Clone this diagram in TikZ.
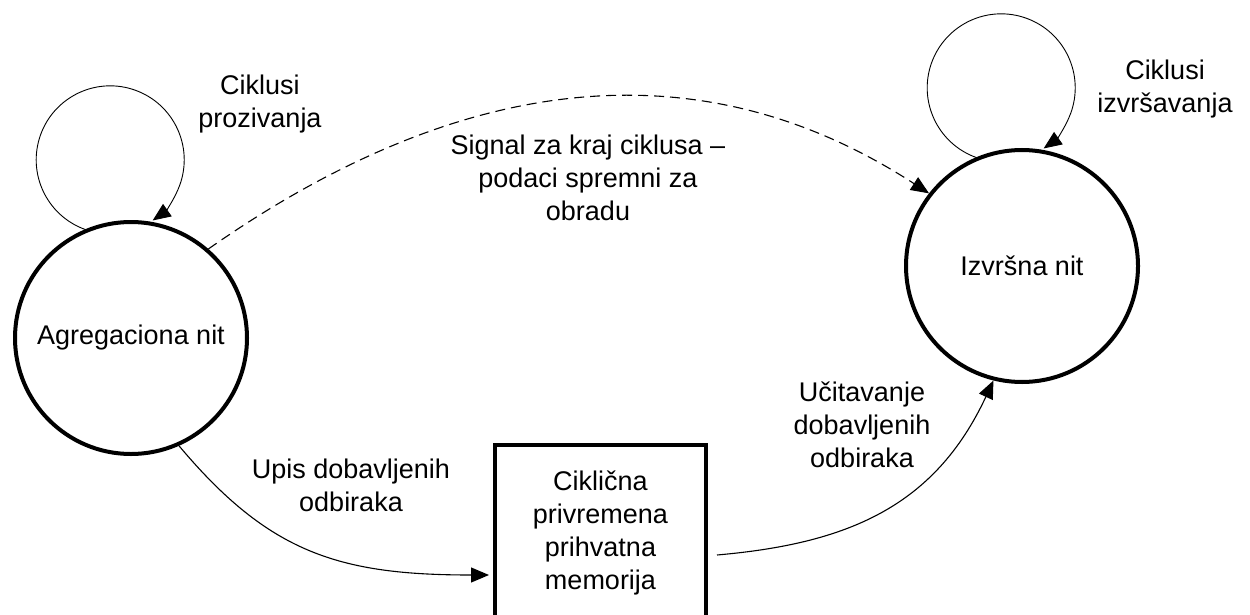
\documentclass[tikz,border=0pt]{standalone}
\usepackage{fontspec}
\setmainfont{Liberation Sans}
\usetikzlibrary{arrows.meta,calc}
\begin{document}
\begin{tikzpicture}[x=1pt,y=1pt,
  every node/.style={font=\fontsize{27}{33}\selectfont, text=black},
  thread/.style={circle, draw=black, line width=4pt, minimum size=232pt, inner sep=0pt},
  bufbox/.style={rectangle, draw=black, line width=4pt, minimum width=211pt, minimum height=211pt, inner sep=0pt},
  lbl/.style={align=center, inner sep=0pt},
  conn/.style={line width=1.1pt, -{Triangle[length=18pt,width=15pt]}},
  loopconn/.style={line width=0.9pt, -{Triangle[length=18pt,width=15pt]}},
  signalconn/.style={conn, dash pattern=on 10pt off 6pt}
]
\useasboundingbox (0,0) rectangle (1250,-615);
\clip (0,0) rectangle (1250,-615);

% main nodes
\node[thread] (agg) at (131,-338) {Agregaciona nit};
\node[thread] (izv) at (1022,-266) {Izvršna nit};
\node[bufbox] (buf) at (600.5,-550.5) {};
\node[lbl] (buftxt) at (600.5,-532.5) {Ciklična\\privremena\\prihvatna\\memorija};

% labels
\node[lbl] (lproz) at (260,-104.5) {Ciklusi\\prozivanja};
\node[lbl] (lizv) at (1165,-89.5) {Ciklusi\\izvršavanja};
\node[lbl] (lsig) at (588,-178) {Signal za kraj ciklusa –\\podaci spremni za\\obradu};
\node[lbl] (lupis) at (351,-485.6) {Upis dobavljenih\\odbiraka};
\node[lbl] (lucit) at (862,-425) {Učitavanje\\dobavljenih\\odbiraka};

% self loops
\draw[loopconn] (agg.113) arc[start angle=-110, end angle=-415, radius=74];
\draw[loopconn] (izv.113) arc[start angle=-110, end angle=-415, radius=74];

% signal (dashed)
\draw[signalconn] (agg.49) .. controls +(35:300) and +(147:280) .. (izv.142);

% write into buffer
\draw[conn] (agg.-66) .. controls +(-50:140) and +(180:150) .. ([xshift=-4pt,yshift=-24.5pt]buf.west);

% read from buffer
\draw[conn] ([xshift=9pt,yshift=-4.5pt]buf.east) .. controls +(5:130) and +(245:140) .. (izv.-104);
\end{tikzpicture}
\end{document}
